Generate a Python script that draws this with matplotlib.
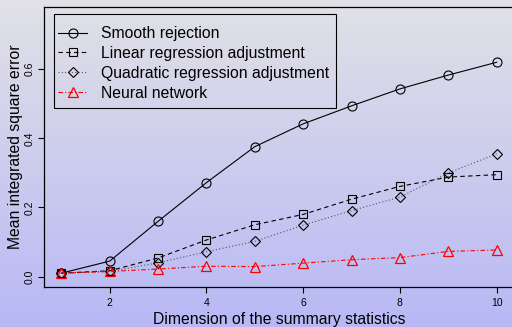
import numpy as np
import matplotlib
matplotlib.use("Agg")
import matplotlib.pyplot as plt
from matplotlib.patches import Rectangle

plt.rcParams['font.family'] = ['Liberation Sans', 'DejaVu Sans']

dims = [1, 2, 3, 4, 5, 6, 7, 8, 9, 10]
smooth = [0.010, 0.045, 0.160, 0.272, 0.376, 0.442, 0.494, 0.543, 0.583, 0.620]
linear = [0.010, 0.017, 0.054, 0.106, 0.150, 0.180, 0.224, 0.261, 0.288, 0.295]
quadratic = [0.010, 0.015, 0.040, 0.072, 0.102, 0.149, 0.191, 0.230, 0.300, 0.355]
neural = [0.010, 0.015, 0.022, 0.030, 0.029, 0.039, 0.049, 0.055, 0.073, 0.077]

xticks = [2, 4, 6, 8, 10]
yticks = [0.0, 0.2, 0.4, 0.6]

fig = plt.figure(figsize=(5.12, 3.27), dpi=100)

# background gradient, light grey on top to lavender at the bottom
bg = fig.add_axes([0, 0, 1, 1], zorder=-1)
top = np.array([225, 225, 230]) / 255
bot = np.array([184, 184, 246]) / 255
t = np.linspace(0, 1, 256)[:, None]
grad = (top * (1 - t) + bot * t)[:, None, :]
bg.imshow(grad, aspect='auto', extent=[0, 1, 0, 1])
bg.axis('off')

ax = fig.add_axes([44 / 512, 1 - 287 / 327, 470 / 512, 280 / 327])
ax.patch.set_alpha(0)

lw = 0.8
ax.plot(dims, smooth, color='black', lw=lw, ls='-', marker='o', ms=6.5,
        mfc='none', mew=0.8, label='Smooth rejection')
ax.plot(dims, linear, color='black', lw=lw, ls=(0, (4, 3)), marker='s', ms=6,
        mfc='none', mew=0.8, label='Linear regression adjustment')
ax.plot(dims, quadratic, color='#555566', lw=lw, ls=(0, (1, 2)), marker='D', ms=5.5,
        mfc='none', mec='black', mew=0.8, label='Quadratic regression adjustment')
ax.plot(dims, neural, color='red', lw=lw, ls=(0, (4, 2, 1, 2)), marker='^', ms=7.5,
        mfc='none', mew=0.9, label='Neural network')

ax.set_xlim(0.64, 10.36)
ax.set_ylim(-0.03, 0.78)
ax.set_xticks(xticks)
ax.set_xticklabels([str(v) for v in xticks])
ax.set_yticks(yticks)
ax.set_yticklabels(['%.1f' % v for v in yticks], rotation=90, va='center')
ax.tick_params(direction='out', length=4, width=0.8, labelsize=7.5, pad=3)
ax.tick_params(axis='x', pad=4)
for s in ax.spines.values():
    s.set_linewidth(0.9)

ax.set_xlabel('Dimension of the summary statistics', fontsize=11.3, labelpad=2.5)
ax.set_ylabel('Mean integrated square error', fontsize=11.3, labelpad=1)

# legend entries without frame, R-style box drawn separately
leg = ax.legend(loc='upper left', bbox_to_anchor=(0.0298, 0.932), fontsize=11.3,
                frameon=False, borderaxespad=0, borderpad=0, handlelength=1.85,
                labelspacing=0.31, handletextpad=0.9)
ax.add_patch(Rectangle((0.0213, 0.639), 0.600, 0.336, transform=ax.transAxes,
                       fill=False, edgecolor='black', lw=0.8, zorder=5))

fig.savefig('out.png', dpi=100)
